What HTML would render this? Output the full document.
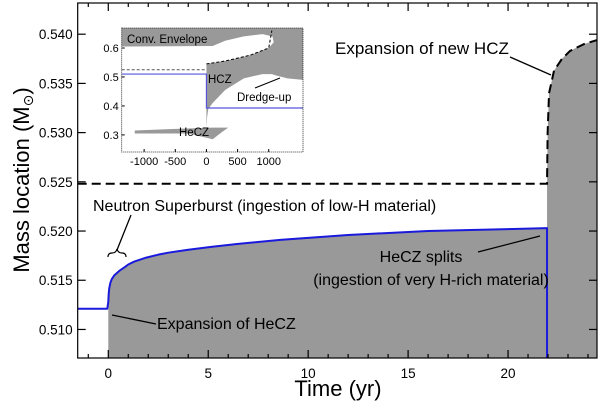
<!DOCTYPE html>
<html><head><meta charset="utf-8"><style>
body{margin:0;background:#fff;}
svg{display:block;font-family:"Liberation Sans","DejaVu Sans",sans-serif;}
</style></head><body>
<svg id="chart" width="600" height="409" viewBox="0 0 600 409" xmlns="http://www.w3.org/2000/svg">
<g id="main"></g>
<g id="inset"></g>
</svg>
<script>
const blueT=[-1.53,-0.05,0,0.02,0.05,0.1,0.17,0.3,0.58,0.8,1.0,1.3,1.9,2.5,3.0,4.0,5.2,6.5,8.6,12,16,20,21.95];
const blueM=[0.5121,0.5121,0.5128,0.5136,0.5142,0.5147,0.5151,0.5155,0.5160,0.5163,0.5166,0.5169,0.5173,0.5176,0.5178,0.5181,0.5184,0.5187,0.5191,0.5196,0.5200,0.5202,0.5203];
const dashT=[-1.53,21.95,21.98,22.05,22.3,22.7,23.1,23.8,24.45];
const dashM=[0.5248,0.5248,0.5300,0.5340,0.5363,0.5375,0.5383,0.5390,0.5394];
const xTicks=[0,5,10,15,20];
const yTicks=[0.510,0.515,0.520,0.525,0.530,0.535,0.540];
const yTickLabels=["0.510","0.515","0.520","0.525","0.530","0.535","0.540"];
const insetXTicks=[-1000,-500,0,500,1000];
const insetYTicks=[0.3,0.4,0.5,0.6];

const NS="http://www.w3.org/2000/svg";
function mk(p,t,a,txt){const e=document.createElementNS(NS,t);for(const k in a)e.setAttribute(k,a[k]);if(txt!==undefined)e.textContent=txt;p.appendChild(e);return e;}
const L=77.7,R=597,T=3,B=358,X0=-1.53,X1=24.45,Y0=0.5071,Y1=0.54317;
const sx=t=>L+(t-X0)/(X1-X0)*(R-L);
const sy=m=>B-(m-Y0)/(Y1-Y0)*(B-T);
const g=document.getElementById('main');

let d1="M"+sx(0)+","+B;
blueT.forEach((t,i)=>{if(t>=0)d1+=" L"+sx(t)+","+sy(blueM[i]);});
d1+=" L"+sx(21.95)+","+B+" Z";
let f1=mk(g,'path',{d:d1,fill:'#999999'});


let d2="M"+sx(21.95)+","+B;
dashT.forEach((t,i)=>{if(t>=21.95)d2+=" L"+sx(t)+","+sy(dashM[i]);});
d2+=" L"+sx(X1)+","+B+" Z";
let f2=mk(g,'path',{d:d2,fill:'#999999'});



let bd=blueT.map((t,i)=>(i?"L":"M")+sx(t)+","+sy(blueM[i])).join(" ")+" L"+sx(21.95)+","+B;
let bl=mk(g,'path',{d:bd,fill:'none',stroke:'#1a1adc','stroke-width':2,'stroke-linejoin':'round'});


let dd=dashT.map((t,i)=>(i?"L":"M")+sx(t)+","+sy(dashM[i])).join(" ");
let dl=mk(g,'path',{d:dd,fill:'none',stroke:'#000','stroke-width':2,'stroke-dasharray':'9,5'});



let fr=mk(g,'rect',{x:L,y:T,width:R-L,height:B-T,fill:'none',stroke:'#000','stroke-width':1.2});


for(let t=-1;t<=24;t++){
  const maj=xTicks.includes(t);const len=maj?8:4;
  mk(g,'line',{x1:sx(t),x2:sx(t),y1:B,y2:B-len,stroke:'#000','stroke-width':1.2});
  mk(g,'line',{x1:sx(t),x2:sx(t),y1:T,y2:T+len,stroke:'#000','stroke-width':1.2});
}
xTicks.forEach(t=>{let e=mk(g,'text',{x:sx(t),y:B+20,'text-anchor':'middle','font-size':13.5},String(t));

});
yTicks.forEach((m,i)=>{
  mk(g,'line',{x1:L,x2:L+8,y1:sy(m),y2:sy(m),stroke:'#000','stroke-width':1.2});
  mk(g,'line',{x1:R,x2:R-8,y1:sy(m),y2:sy(m),stroke:'#000','stroke-width':1.2});
  let e=mk(g,'text',{x:L-5,y:sy(m)+5,'text-anchor':'end','font-size':13.5},yTickLabels[i]);
  
  
});
let xt=mk(g,'text',{x:338,y:396,'text-anchor':'middle','font-size':22},'Time (yr)');


let yt=mk(g,'text',{x:0,y:0,'text-anchor':'middle','font-size':22,transform:'translate(29,180) rotate(-90)'},'Mass location (M');


mk(yt,'tspan',{'font-size':14,dy:4},'\u2299');
mk(yt,'tspan',{dy:-4},')');

function ann(name,x,y,txt,anchor,fs){let e=mk(g,'text',{x:x,y:y,'font-size':fs||16,'text-anchor':anchor||'start'},txt);
return e;}
function lead(x1,y1,x2,y2){mk(g,'line',{x1,y1,x2,y2,stroke:'#000','stroke-width':1.3});}
ann('label-expansion-new-hcz',335,54,'Expansion of new HCZ','start',17);
lead(510,57,551,75);
ann('label-neutron-superburst',93,211,'Neutron Superburst (ingestion of low-H material)','start',16);
lead(131,215,117,250);
mk(g,'path',{d:'M108,257 Q108,253 112,253 Q116,253 117,249 Q118,253 122,253 Q126,253 126,257',fill:'none',stroke:'#000','stroke-width':1.2});
ann('label-hecz-splits',421,262,'HeCZ splits','middle',16);
ann('label-hecz-splits-detail',431,285,'(ingestion of very H-rich material)','middle',16);
lead(478,252,540,236);
ann('label-expansion-hecz',157,329,'Expansion of HeCZ','start',16);
lead(112,315,156,324);

const ig=document.getElementById('inset');
const iL=121.7,iR=303,iT=28,iB=152,iX0=-1360,iX1=1550,iY0=0.241,iY1=0.669;
const ix=v=>iL+(v-iX0)/(iX1-iX0)*(iR-iL);
const iy=v=>iB-(v-iY0)/(iY1-iY0)*(iB-iT);
mk(ig,'rect',{x:iL,y:iT,width:iR-iL,height:iB-iT,fill:'#fff'});
function poly(name,pts){let d=pts.map((p,i)=>(i?"L":"M")+ix(p[0])+","+iy(p[1])).join(" ")+"Z";
let e=mk(ig,'path',{d:d,fill:'#999999'});}
poly('inset-envelope',[[-1360,0.669],[1550,0.669],[1550,0.49],[1300,0.495],[1120,0.505],[1050,0.51],[900,0.51],[600,0.495],[300,0.455],[100,0.41],[30,0.39],[10,0.36],[5,0.34],[0,0.33],[0,0.545],[300,0.555],[700,0.575],[1000,0.6],[1080,0.62],[1060,0.64],[900,0.648],[600,0.64],[300,0.625],[100,0.607],[-1360,0.605]]);
poly('inset-hecz',[[-1150,0.315],[-1150,0.305],[-300,0.305],[0,0.29],[100,0.285],[250,0.31],[350,0.325],[100,0.325],[-600,0.32]]);
mk(ig,'path',{d:`M${ix(0)},${iy(0.545)} L${ix(300)},${iy(0.555)} L${ix(700)},${iy(0.575)} L${ix(1000)},${iy(0.6)} L${ix(1050)},${iy(0.66)}`,fill:'none',stroke:'#000','stroke-width':1,'stroke-dasharray':'3,2'});
mk(ig,'line',{x1:ix(-1360),x2:ix(0),y1:iy(0.525),y2:iy(0.525),stroke:'#555','stroke-width':1,'stroke-dasharray':'3,2'});
mk(ig,'path',{d:`M${ix(-1360)},${iy(0.51)} L${ix(0)},${iy(0.51)} L${ix(0)},${iy(0.393)} L${ix(1550)},${iy(0.393)}`,fill:'none',stroke:'#5555dd','stroke-width':1.2});
mk(ig,'rect',{x:iL,y:iT,width:iR-iL,height:iB-iT,fill:'none',stroke:'#000','stroke-width':0.8,'stroke-dasharray':'1,1'});
insetXTicks.forEach(v=>{let e=mk(ig,'text',{x:ix(v),y:iB+13,'text-anchor':'middle','font-size':11},String(v));

mk(ig,'line',{x1:ix(v),x2:ix(v),y1:iB,y2:iB-3,stroke:'#000'});});
insetYTicks.forEach(v=>{let e=mk(ig,'text',{x:iL-3,y:iy(v)+4,'text-anchor':'end','font-size':11},v.toFixed(1));

mk(ig,'line',{x1:iL,x2:iL+3,y1:iy(v),y2:iy(v),stroke:'#000'});});
function il(name,x,y,t){let e=mk(ig,'text',{x,y,'font-size':11.5},t);}
il('inset-label-conv-envelope',127,43,'Conv. Envelope');
il('inset-label-hcz',208,83,'HCZ');
il('inset-label-dredge-up',237,101,'Dredge-up');
il('inset-label-hecz',179,136,'HeCZ');
mk(ig,'line',{x1:255,y1:88,x2:280,y2:78,stroke:'#000','stroke-width':1});
</script>
</body></html>
